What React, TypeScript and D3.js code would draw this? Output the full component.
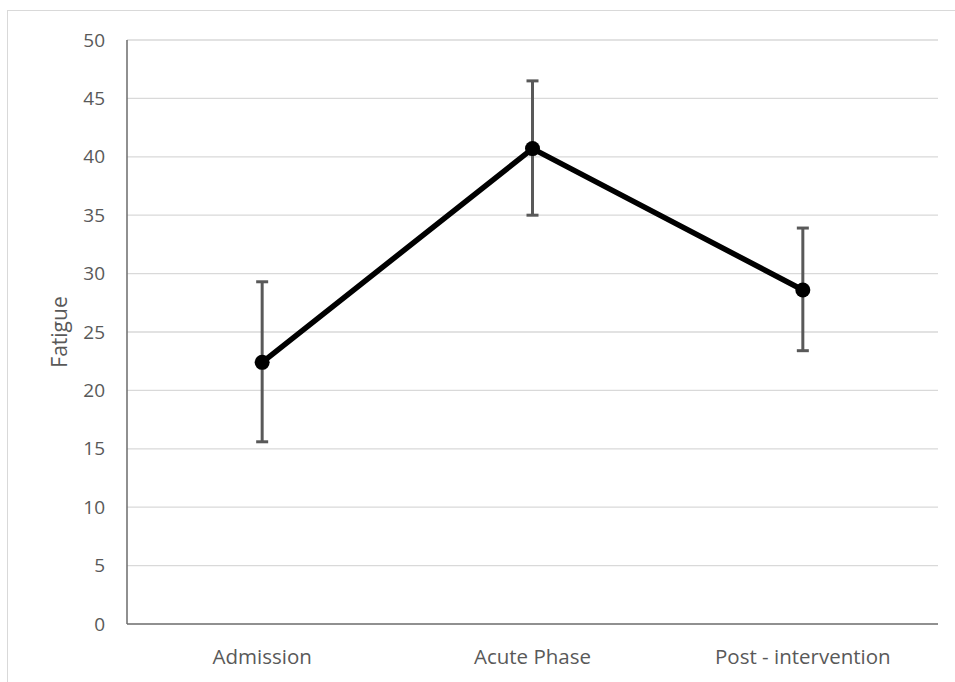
import React, { useEffect, useRef } from "react";
import * as d3 from "d3";

const categories = ["Admission", "Acute Phase", "Post - intervention"];
const means = [22.4, 40.7, 28.6];
const lower = [15.6, 35.0, 23.4];
const upper = [29.3, 46.5, 33.9];
const yTicks = [0, 5, 10, 15, 20, 25, 30, 35, 40, 45, 50];

const App = () => {
  const svgRef = useRef<SVGSVGElement>(null);

  useEffect(() => {
    const width = 955;
    const height = 682;
    const margin = { top: 40, right: 17, bottom: 58, left: 127 };
    const font = "'Open Sans', 'Noto Sans', sans-serif";

    const svg = d3.select(svgRef.current).attr("width", width).attr("height", height);
    svg.selectAll("*").remove();

    svg
      .append("rect")
      .attr("x", 7.5)
      .attr("y", 10.5)
      .attr("width", 960)
      .attr("height", 700)
      .attr("fill", "white")
      .attr("stroke", "#d9d9d9");

    const x = d3
      .scaleBand()
      .domain(categories)
      .range([margin.left, width - margin.right]);

    const y = d3
      .scaleLinear()
      .domain([0, 50])
      .range([height - margin.bottom, margin.top]);

    // gridlines
    svg
      .append("g")
      .selectAll("line")
      .data(yTicks.filter((t) => t > 0))
      .enter()
      .append("line")
      .attr("x1", margin.left)
      .attr("x2", width - margin.right)
      .attr("y1", (d) => y(d))
      .attr("y2", (d) => y(d))
      .attr("stroke", "#d9d9d9")
      .attr("stroke-width", 1.3);

    // y tick labels
    svg
      .append("g")
      .selectAll("text")
      .data(yTicks)
      .enter()
      .append("text")
      .attr("x", margin.left - 22)
      .attr("y", (d) => y(d))
      .attr("dy", "0.35em")
      .attr("text-anchor", "end")
      .attr("fill", "#595959")
      .style("font-family", font)
      .style("font-size", "19px")
      .text((d) => d);

    // axes lines
    svg
      .append("line")
      .attr("x1", margin.left)
      .attr("x2", margin.left)
      .attr("y1", y(50))
      .attr("y2", y(0))
      .attr("stroke", "#6b6b6b")
      .attr("stroke-width", 1.5);
    svg
      .append("line")
      .attr("x1", margin.left)
      .attr("x2", width - margin.right)
      .attr("y1", y(0))
      .attr("y2", y(0))
      .attr("stroke", "#6b6b6b")
      .attr("stroke-width", 1.5);

    // x labels
    svg
      .append("g")
      .selectAll("text")
      .data(categories)
      .enter()
      .append("text")
      .attr("x", (d) => (x(d) as number) + x.bandwidth() / 2)
      .attr("y", y(0) + 40)
      .attr("text-anchor", "middle")
      .attr("fill", "#595959")
      .style("font-family", font)
      .style("font-size", "20.5px")
      .text((d) => d);

    // y axis title
    svg
      .append("text")
      .attr("transform", `translate(67, ${(y(0) + y(50)) / 2}) rotate(-90)`)
      .attr("text-anchor", "middle")
      .attr("fill", "#595959")
      .style("font-family", font)
      .style("font-size", "21px")
      .text("Fatigue");

    const cx = (i: number) => (x(categories[i]) as number) + x.bandwidth() / 2;

    // error bars
    const eb = svg.append("g").attr("stroke", "#595959").attr("stroke-width", 3);
    categories.forEach((c, i) => {
      eb.append("line")
        .attr("x1", cx(i))
        .attr("x2", cx(i))
        .attr("y1", y(lower[i]))
        .attr("y2", y(upper[i]));
      [lower[i], upper[i]].forEach((v) => {
        eb.append("line")
          .attr("x1", cx(i) - 6)
          .attr("x2", cx(i) + 6)
          .attr("y1", y(v))
          .attr("y2", y(v));
      });
    });

    // line
    const line = d3
      .line<number>()
      .x((d, i) => cx(i))
      .y((d) => y(d));

    svg
      .append("path")
      .datum(means)
      .attr("d", line)
      .attr("fill", "none")
      .attr("stroke", "black")
      .attr("stroke-width", 5.5)
      .attr("stroke-linejoin", "round");

    svg
      .append("g")
      .selectAll("circle")
      .data(means)
      .enter()
      .append("circle")
      .attr("cx", (d, i) => cx(i))
      .attr("cy", (d) => y(d))
      .attr("r", 7.5)
      .attr("fill", "black");
  }, []);

  return <svg ref={svgRef} style={{ position: "absolute", left: 0, top: 0 }}></svg>;
};

export default App;
